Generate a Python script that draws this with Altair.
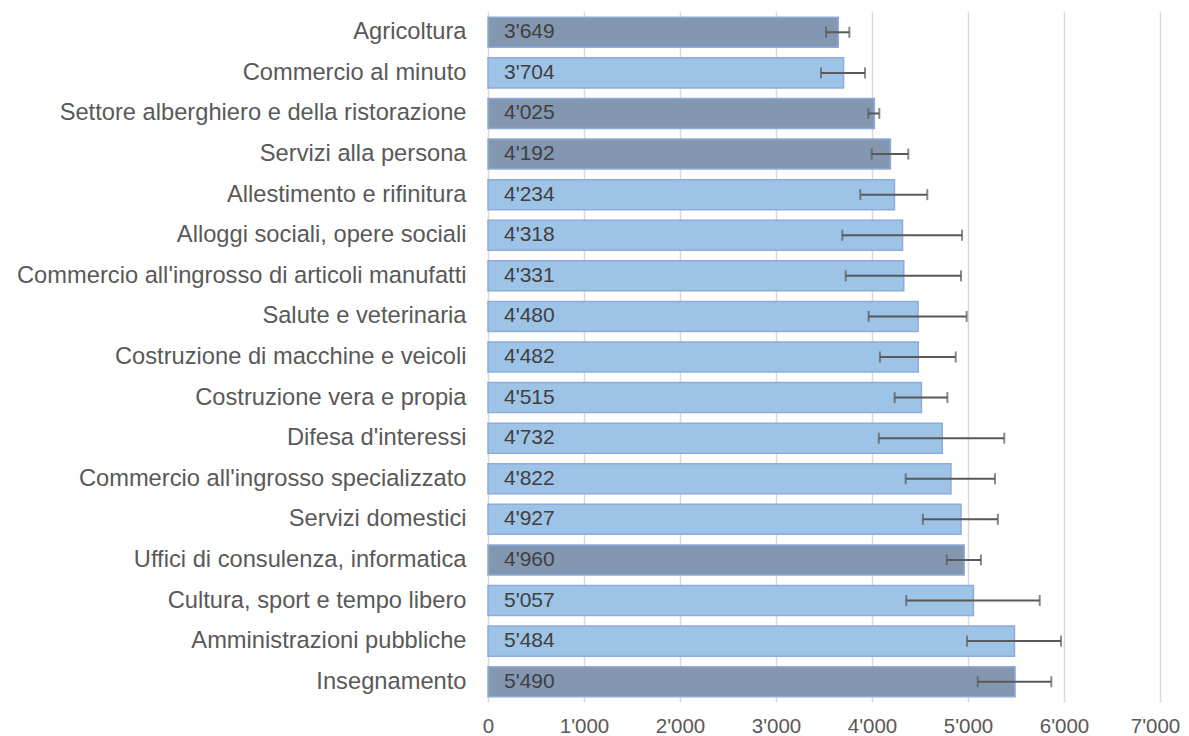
import altair as alt
import pandas as pd

categories = [
    "Agricoltura",
    "Commercio al minuto",
    "Settore alberghiero e della ristorazione",
    "Servizi alla persona",
    "Allestimento e rifinitura",
    "Alloggi sociali, opere sociali",
    "Commercio all'ingrosso di articoli manufatti",
    "Salute e veterinaria",
    "Costruzione di macchine e veicoli",
    "Costruzione vera e propia",
    "Difesa d'interessi",
    "Commercio all'ingrosso specializzato",
    "Servizi domestici",
    "Uffici di consulenza, informatica",
    "Cultura, sport e tempo libero",
    "Amministrazioni pubbliche",
    "Insegnamento",
]
values = [3649, 3704, 4025, 4192, 4234, 4318, 4331, 4480, 4482, 4515,
          4732, 4822, 4927, 4960, 5057, 5484, 5490]
err_low = [3521, 3469, 3962, 3997, 3878, 3691, 3726, 3965, 4083, 4236,
           4071, 4351, 4530, 4779, 4357, 4990, 5101]
err_high = [3764, 3927, 4076, 4378, 4576, 4938, 4927, 4986, 4872, 4785,
            5378, 5281, 5311, 5135, 5747, 5969, 5868]
highlight = [1, 0, 1, 1, 0, 0, 0, 0, 0, 0, 0, 0, 0, 1, 0, 0, 1]

df = pd.DataFrame({
    "cat": categories,
    "val": values,
    "lo": err_low,
    "hi": err_high,
    "hl": ["dark" if h else "light" for h in highlight],
})

FONT = "Liberation Sans"
y_enc = alt.Y("cat:N", sort=categories, title=None,
              scale=alt.Scale(paddingInner=0.26, paddingOuter=0.13),
              axis=alt.Axis(labelFontSize=23.7, labelColor="#595959", labelFont=FONT,
                            ticks=False, domain=False, labelPadding=22,
                            labelLimit=520))

x_scale = alt.Scale(domain=[0, 7000], nice=False)
x_axis = alt.Axis(values=[0, 1000, 2000, 3000, 4000, 5000, 6000, 7000],
                  labelExpr="replace(format(datum.value, ','), ',', \"'\")",
                  labelFontSize=20.5, labelColor="#595959", labelFont=FONT,
                  labelFlush=False, labelOverlap=False,
                  labelOffset=alt.ExprRef("datum.value == 7000 ? -5 : 0"),
                  ticks=False, domain=False, labelPadding=14,
                  grid=True, gridColor="#D9D9D9", gridWidth=1.5, title=None)

base = alt.Chart(df)

bars = base.mark_bar(stroke="#8FAADC", strokeWidth=1.5).encode(
    y=y_enc,
    x=alt.X("val:Q", scale=x_scale, axis=x_axis),
    color=alt.Color("hl:N", scale=alt.Scale(domain=["dark", "light"],
                                             range=["#8497B0", "#9DC3E6"]), legend=None),
)

rule = base.mark_rule(color="#595959", strokeWidth=2).encode(
    y=alt.Y("cat:N", sort=categories),
    x=alt.X("lo:Q", scale=x_scale),
    x2="hi:Q",
)
cap_lo = base.mark_tick(color="#595959", thickness=2, size=11).encode(
    y=alt.Y("cat:N", sort=categories),
    x=alt.X("lo:Q", scale=x_scale),
)
cap_hi = base.mark_tick(color="#595959", thickness=2, size=11).encode(
    y=alt.Y("cat:N", sort=categories),
    x=alt.X("hi:Q", scale=x_scale),
)

labels = base.transform_calculate(
    lab="replace(format(datum.val, ','), ',', \"'\")"
).mark_text(align="left", baseline="middle", dx=16, fontSize=21,
            font=FONT, color="#404040").encode(
    y=alt.Y("cat:N", sort=categories),
    x=alt.datum(0, scale=x_scale),
    text="lab:N",
)

chart = alt.layer(bars, rule, cap_lo, cap_hi, labels).properties(
    width=672, height=690,
    autosize=alt.AutoSizeParams(type="none"),
    padding={"left": 480, "top": 4, "right": 21, "bottom": 34},
).configure_view(stroke=None)

chart.save("out.html", embed_options={"renderer": "svg", "actions": False})
